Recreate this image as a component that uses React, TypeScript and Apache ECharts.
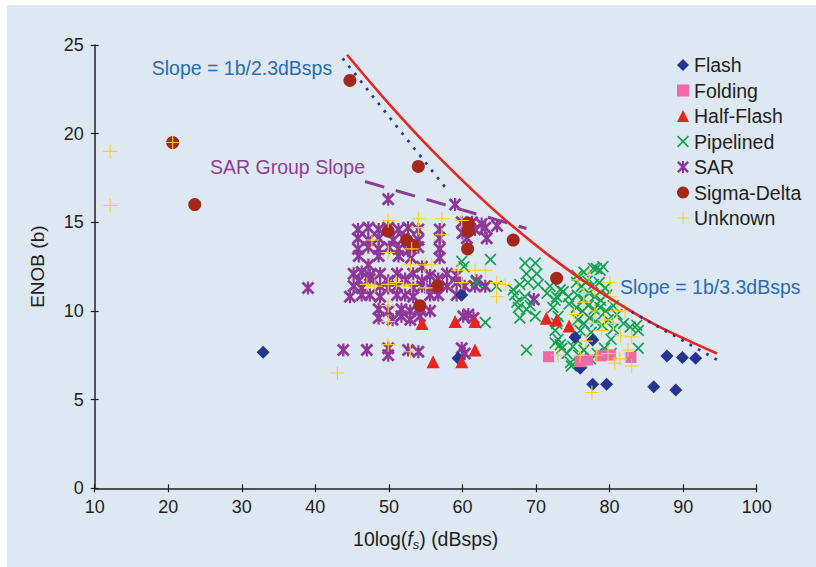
import React, { useEffect, useRef } from "react";
import * as echarts from "echarts";

const FONT = "'Liberation Sans', Arial, Helvetica, sans-serif";
const TXT = "#231f20";

const seriesNames = ["Flash", "Folding", "Half-Flash", "Pipelined", "SAR", "Sigma-Delta", "Unknown"];

const flash = [
  [32.9, 7.67], [59.4, 7.33], [59.9, 10.9], [75.3, 8.52], [77.7, 8.36], [76.0, 6.77],
  [77.7, 5.87], [79.6, 5.87], [86.0, 5.73], [89.0, 5.54], [87.8, 7.46], [89.9, 7.37], [91.7, 7.33],
];

const folding = [
  [71.7, 7.42], [76.0, 7.14], [77.0, 7.24], [78.8, 7.47], [80.1, 7.52], [82.9, 7.38],
];

const halfFlash = [
  [54.5, 9.3], [59.0, 9.4], [61.7, 9.4], [56.0, 7.14], [59.9, 7.14], [61.7, 7.8],
  [71.4, 9.59], [72.8, 9.49], [74.5, 9.15],
];

const pipelined = [
  [59.9, 12.8], [63.8, 12.9], [61.9, 11.6], [64.6, 11.4], [63.1, 9.35], [60.2, 12.5],
  [68.5, 12.7], [69.9, 12.7], [68.7, 12.1], [70.1, 12.1], [67.8, 11.5], [68.9, 11.6],
  [70.3, 11.5], [67.1, 10.9], [68.5, 10.8], [67.6, 10.2], [68.7, 10.1], [69.2, 10.3],
  [69.9, 9.7], [67.8, 9.6], [67.4, 10.5], [66.9, 11.2], [68.7, 7.8],
  [71.9, 11.4], [72.8, 10.8], [72.3, 10.2], [73.7, 11.1], [73.0, 9.7], [72.6, 8.9],
  [73.3, 8.1], [74.2, 7.6], [74.7, 7.1], [72.6, 10.6], [72.8, 9.3], [72.6, 8.2],
  [71.5, 11.0], [74.5, 10.4], [74.4, 10.8], [73.3, 11.2],
  [75.6, 12.0], [76.5, 12.2], [77.8, 12.4], [78.7, 12.3], [79.1, 12.5], [78.2, 12.4],
  [75.5, 11.6], [76.2, 11.4], [77.0, 11.7], [77.8, 11.5], [78.6, 11.6], [79.4, 11.3],
  [75.6, 10.9], [76.4, 10.7], [77.2, 11.0], [78.0, 10.8], [78.8, 10.6], [79.6, 10.9],
  [75.5, 10.2], [76.3, 10.0], [77.1, 10.3], [77.9, 10.1], [78.7, 10.2], [79.5, 10.0],
  [75.7, 9.5], [76.5, 9.3], [77.3, 9.6], [78.1, 9.4], [79.0, 9.2], [79.8, 9.5],
  [76.0, 8.9], [77.5, 8.8], [80.5, 9.0], [80.2, 8.4],
  [81.9, 9.3], [82.8, 9.1], [83.7, 9.2], [83.9, 7.9], [81.0, 9.8], [80.5, 10.3], [83.9, 8.9],
  [73.5, 7.9], [75.0, 8.0], [75.8, 7.5], [76.5, 7.8], [74.8, 6.9], [76.2, 7.1], [77.4, 7.3],
  [78.3, 7.6], [79.3, 7.9], [80.2, 7.6], [75.5, 8.4], [73.0, 8.4],
];

const sar = [
  [49.9, 16.3], [59.0, 16.0],
  [45.8, 14.6], [47.2, 14.7], [48.6, 14.6], [49.9, 14.7], [51.3, 14.6], [52.6, 14.7], [54.0, 14.6], [56.9, 14.6],
  [45.8, 14.1], [47.2, 14.0], [48.6, 14.1], [50.6, 14.0], [52.0, 14.1], [54.0, 14.0], [56.9, 14.1],
  [45.8, 13.5], [47.2, 13.6], [48.6, 13.5], [50.0, 13.6], [51.3, 13.5], [52.6, 13.4], [54.0, 13.6], [56.9, 13.5],
  [45.9, 13.1], [48.6, 13.1], [51.3, 13.1], [53.0, 13.0], [56.9, 13.0],
  [59.9, 15.0], [61.3, 15.0], [62.6, 14.9], [60.0, 14.4], [61.7, 14.6], [63.1, 14.7], [64.7, 14.8], [63.3, 14.1], [60.6, 14.1],
  [47.2, 12.6], [54.5, 12.5],
  [45.2, 12.1], [46.3, 12.2], [47.4, 12.0], [48.8, 12.1], [51.1, 12.1], [53.3, 12.1], [55.6, 12.0], [57.9, 12.1], [59.2, 12.0],
  [45.9, 11.7], [47.4, 11.8], [49.9, 11.7], [52.2, 11.8], [54.5, 11.7], [56.7, 11.8], [59.2, 11.6], [61.9, 11.7],
  [45.2, 11.4], [46.3, 11.3], [48.8, 11.4], [49.9, 11.3], [51.1, 11.4], [53.3, 11.3], [54.5, 11.4], [55.6, 11.3],
  [57.9, 11.4], [60.3, 11.4], [61.7, 11.4], [63.1, 11.4],
  [44.7, 10.8], [46.3, 10.9], [47.4, 10.9], [48.8, 10.8], [51.1, 10.9], [52.2, 10.9], [53.3, 10.8], [55.6, 10.9],
  [56.7, 10.9], [59.2, 10.9],
  [48.6, 10.1], [49.9, 10.0], [51.7, 10.1], [52.9, 10.0], [54.2, 10.1], [55.6, 10.0],
  [48.6, 9.6], [50.5, 9.5], [51.7, 9.7], [52.9, 9.5], [54.2, 9.7], [60.1, 9.7], [61.5, 9.6], [60.8, 9.8],
  [43.8, 7.8], [47.0, 7.8], [49.9, 7.9], [49.9, 7.5], [52.6, 7.8], [54.0, 7.7], [59.9, 7.9], [60.3, 7.6],
  [39.0, 11.3], [69.7, 10.65],
];

const sigmaDelta = [
  [20.6, 19.5], [23.6, 16.0], [44.7, 23.0], [54.0, 18.15], [49.9, 14.5], [52.4, 14.0], [53.3, 13.7],
  [56.6, 11.4], [54.2, 10.3], [60.8, 14.95], [60.8, 14.5], [60.7, 13.5], [66.9, 14.0], [72.8, 11.84],
];

const unknown = [
  [12.1, 19.0], [12.1, 15.95], [20.6, 19.5], [43.0, 6.5], [77.6, 5.4],
  [49.9, 15.1], [54.0, 15.2], [57.2, 15.2], [54.0, 14.7], [49.9, 13.3], [53.1, 13.5], [54.9, 12.6],
  [55.8, 12.6], [52.9, 12.6], [47.7, 14.0], [57.2, 14.3], [49.9, 11.5], [53.1, 11.5], [48.1, 11.4],
  [49.9, 10.3], [49.9, 9.4], [49.9, 8.1], [52.9, 7.7], [51.0, 11.6], [52.0, 11.4], [55.0, 11.3], [47.0, 11.5],
  [59.9, 15.1], [61.7, 12.3], [63.1, 12.3], [64.65, 11.6], [65.8, 11.5], [64.65, 10.8], [59.4, 12.3], [59.9, 11.6],
  [75.7, 11.75], [78.0, 11.2], [80.05, 11.6], [78.0, 10.0], [80.05, 10.8], [81.0, 10.0], [82.1, 10.0],
  [83.0, 8.55], [77.8, 9.3], [78.9, 8.9], [76.0, 7.5], [78.25, 7.5], [81.4, 7.3], [83.0, 6.9], [80.7, 7.05],
  [73.0, 7.5], [76.5, 10.5], [77.2, 12.0], [79.3, 9.5], [80.5, 9.3], [81.5, 8.6], [76.8, 8.3], [75.2, 9.8],
  [82.5, 7.8], [79.8, 7.6], [76.5, 11.0],
];

const redCurve = [
  [44.3, 24.45], [50.0, 21.68], [56.0, 19.0], [62.8, 16.25], [67.0, 14.72], [72.0, 13.05],
  [78.0, 11.26], [86.0, 9.27], [94.6, 7.6],
];
const blueDotted1 = [[43.7, 24.25], [57.6, 17.0]];
const blueDotted2 = [[83.0, 9.95], [94.9, 7.18]];
const sarSlope = [[46.75, 17.3], [68.7, 14.65]];

const X_PATH = "path://M2,0 L10,8 L18,0 L20,2 L12,10 L20,18 L18,20 L10,12 L2,20 L0,18 L8,10 L0,2 Z";
const AST_PATH =
  "path://M3,0 L10,7 L17,0 L20,3 L13,10 L20,17 L17,20 L10,13 L3,20 L0,17 L7,10 L0,3 Z M8.3,0 L11.7,0 L11.7,20 L8.3,20 Z";
const PLUS_PATH = "path://M9.2,0 L10.8,0 L10.8,9.2 L20,9.2 L20,10.8 L10.8,10.8 L10.8,20 L9.2,20 L9.2,10.8 L0,10.8 L0,9.2 L9.2,9.2 Z";

export default function App() {
  const ref = useRef<HTMLDivElement>(null);
  useEffect(() => {
    if (!ref.current) return;
    const chart = echarts.init(ref.current, undefined, { renderer: "svg" });
    const scatter = (name: string, data: number[][], symbol: string, size: number, color: string, z: number) => ({
      name,
      type: "scatter",
      data,
      symbol,
      symbolSize: size,
      itemStyle: { color, opacity: 1 },
      z,
      xAxisIndex: 0,
      yAxisIndex: 0,
    });
    const axisCommon = {
      type: "value",
      axisLine: { show: true, lineStyle: { color: TXT, width: 1.5 } },
      axisTick: { show: true, length: 4, lineStyle: { color: TXT, width: 1.2 } },
      splitLine: { show: false },
      axisLabel: { color: TXT, fontSize: 18, fontFamily: FONT },
    };
    const innerAxis = {
      type: "value",
      axisLine: { show: false },
      axisTick: { show: true, inside: true, length: 4, lineStyle: { color: TXT, width: 1.2 } },
      splitLine: { show: false },
      axisLabel: { show: false },
    };
    chart.setOption({
      animation: false,
      grid: { left: 94.7, top: 45, width: 662, height: 443.3, containLabel: false },
      xAxis: [
        {
          ...axisCommon,
          min: 10,
          max: 100,
          interval: 10,
          position: "bottom",
          axisLabel: { ...axisCommon.axisLabel, margin: 10 },
          name: "{n|10log(}{i|f}{sub|s}{n|) (dBsps)}",
          nameLocation: "middle",
          nameGap: 39,
          nameTextStyle: {
            color: TXT,
            fontFamily: FONT,
            fontSize: 19.5,
            rich: {
              n: { fontSize: 19.5, lineHeight: 24, fontFamily: FONT, color: TXT },
              i: { fontSize: 19.5, lineHeight: 24, fontStyle: "italic", fontFamily: FONT, color: TXT },
              sub: {
                fontSize: 13,
                lineHeight: 13,
                padding: [11, 0, 0, 0],
                verticalAlign: "top",
                fontStyle: "italic",
                fontFamily: FONT,
                color: TXT,
              },
            },
          },
        },
        { ...innerAxis, min: 10, max: 100, interval: 10, position: "bottom" },
      ],
      yAxis: [
        {
          ...axisCommon,
          min: 0,
          max: 25,
          interval: 5,
          position: "left",
          axisLabel: { ...axisCommon.axisLabel, margin: 11 },
          name: "ENOB (b)",
          nameLocation: "middle",
          nameGap: 47,
          nameTextStyle: { color: TXT, fontFamily: FONT, fontSize: 19, lineHeight: 20 },
        },
        { ...innerAxis, min: 0, max: 25, interval: 5, position: "left" },
      ],
      legend: {
        orient: "vertical",
        left: 672,
        top: 50,
        itemWidth: 12,
        itemHeight: 12,
        itemGap: 5.5,
        data: seriesNames,
        textStyle: { color: TXT, fontFamily: FONT, fontSize: 19.5, lineHeight: 20 },
      },
      graphic: [
        {
          type: "text",
          left: 151.7,
          top: 58,
          style: { text: "Slope = 1b/2.3dBsps", fill: "#2b6cb0", fontSize: 19.5, fontFamily: FONT },
          z: 10,
        },
        {
          type: "text",
          left: 210,
          top: 157,
          style: { text: "SAR Group Slope", fill: "#8e3d96", fontSize: 19.5, fontFamily: FONT },
          z: 10,
        },
        {
          type: "text",
          left: 620,
          top: 277,
          style: { text: "Slope = 1b/3.3dBsps", fill: "#2b6cb0", fontSize: 19.5, fontFamily: FONT },
          z: 10,
        },
      ],
      series: [
        scatter("SAR", sar, AST_PATH, 13, "#8e3799", 2),
        scatter("Pipelined", pipelined, X_PATH, 12, "#13a24b", 3),
        scatter("Flash", flash, "diamond", 13, "#26338f", 4),
        scatter("Folding", folding, "rect", 11, "#f069a6", 4),
        scatter("Half-Flash", halfFlash, "triangle", 13, "#e8251f", 5),
        scatter("Sigma-Delta", sigmaDelta, "circle", 13, "#a3281b", 5),
        scatter("Unknown", unknown, PLUS_PATH, 14, "#f7d21c", 6),
        {
          type: "line",
          data: redCurve,
          smooth: 0.3,
          showSymbol: false,
          symbol: "none",
          lineStyle: { color: "#e8251f", width: 2.6 },
          z: 7,
        },
        {
          type: "line",
          data: blueDotted1,
          showSymbol: false,
          symbol: "none",
          lineStyle: { color: "#26338f", width: 2.7, type: [2.7, 6.8] },
          z: 7,
        },
        {
          type: "line",
          data: blueDotted2,
          showSymbol: false,
          symbol: "none",
          lineStyle: { color: "#26338f", width: 2.7, type: [2.7, 6.8] },
          z: 7,
        },
        {
          type: "line",
          data: sarSlope,
          showSymbol: false,
          symbol: "none",
          lineStyle: { color: "#8e3d96", width: 3, type: [20, 12] },
          z: 7,
        },
      ],
    });
    return () => chart.dispose();
  }, []);

  return (
    <div style={{ position: "fixed", left: 0, top: 0, right: 0, bottom: 0, background: "#ffffff", overflow: "hidden" }}>
      <div style={{ position: "absolute", left: 7, top: 5, right: 0, bottom: 0, background: "#dee8f3" }} />
      <div ref={ref} style={{ position: "absolute", left: 0, top: 0, width: 816, height: 567 }} />
    </div>
  );
}
